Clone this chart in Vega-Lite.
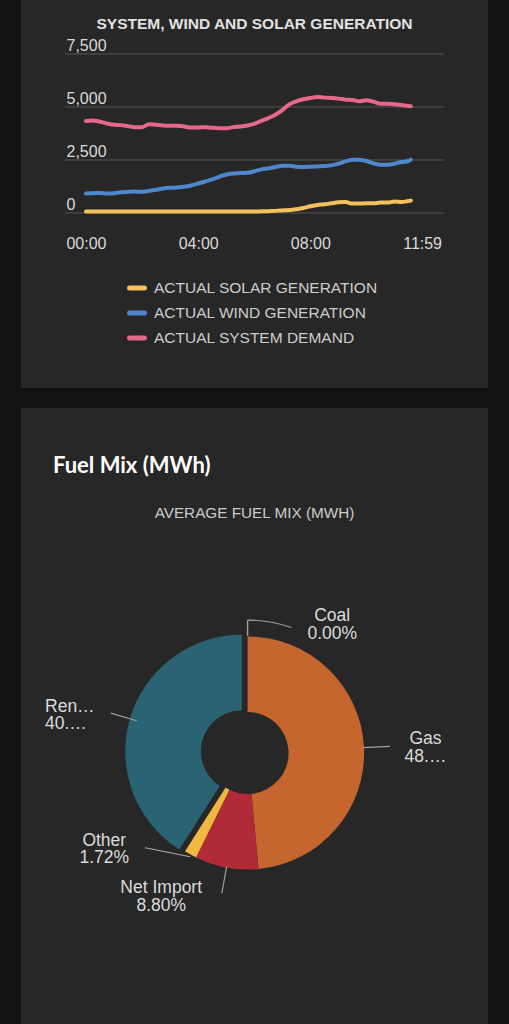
{
  "$schema": "https://vega.github.io/schema/vega-lite/v6.json",
  "background": "#131313",
  "padding": {"left": 21, "right": 21, "top": 0, "bottom": 0},
  "spacing": 0,
  "resolve": {"scale": {"color": "independent"}, "legend": {"color": "independent"}},
  "config": {
    "view": {"fill": "#272727", "stroke": null},
    "font": "Liberation Sans"
  },
  "vconcat": [
    {
      "width": 467,
      "height": 388,
      "view": {"fill": "#272727", "stroke": null},
      "title": {
        "text": "SYSTEM, WIND AND SOLAR GENERATION",
        "anchor": "middle",
        "frame": "group",
        "offset": -44,
        "baseline": "alphabetic",
        "font": "Liberation Sans",
        "fontSize": 15.5,
        "fontWeight": "bold",
        "color": "#e2e2e2"
      },
      "data": {
        "values": [
          {"time": "2024-01-01T00:00", "solar": 65, "wind": 918, "demand": 4335},
          {"time": "2024-01-01T00:15", "solar": 65, "wind": 933, "demand": 4366},
          {"time": "2024-01-01T00:30", "solar": 65, "wind": 949, "demand": 4303},
          {"time": "2024-01-01T00:45", "solar": 65, "wind": 918, "demand": 4224},
          {"time": "2024-01-01T01:00", "solar": 65, "wind": 933, "demand": 4161},
          {"time": "2024-01-01T01:15", "solar": 65, "wind": 981, "demand": 4145},
          {"time": "2024-01-01T01:30", "solar": 65, "wind": 997, "demand": 4097},
          {"time": "2024-01-01T01:45", "solar": 65, "wind": 1012, "demand": 4050},
          {"time": "2024-01-01T02:00", "solar": 65, "wind": 997, "demand": 4050},
          {"time": "2024-01-01T02:15", "solar": 65, "wind": 1044, "demand": 4192},
          {"time": "2024-01-01T02:30", "solar": 65, "wind": 1092, "demand": 4161},
          {"time": "2024-01-01T02:45", "solar": 65, "wind": 1155, "demand": 4129},
          {"time": "2024-01-01T03:00", "solar": 65, "wind": 1187, "demand": 4113},
          {"time": "2024-01-01T03:15", "solar": 65, "wind": 1202, "demand": 4113},
          {"time": "2024-01-01T03:30", "solar": 65, "wind": 1234, "demand": 4082},
          {"time": "2024-01-01T03:45", "solar": 65, "wind": 1297, "demand": 4034},
          {"time": "2024-01-01T04:00", "solar": 65, "wind": 1392, "demand": 4034},
          {"time": "2024-01-01T04:15", "solar": 65, "wind": 1487, "demand": 4050},
          {"time": "2024-01-01T04:30", "solar": 65, "wind": 1582, "demand": 4018},
          {"time": "2024-01-01T04:45", "solar": 65, "wind": 1709, "demand": 4002},
          {"time": "2024-01-01T05:00", "solar": 65, "wind": 1819, "demand": 4002},
          {"time": "2024-01-01T05:15", "solar": 65, "wind": 1867, "demand": 4050},
          {"time": "2024-01-01T05:30", "solar": 66, "wind": 1883, "demand": 4082},
          {"time": "2024-01-01T05:45", "solar": 68, "wind": 1898, "demand": 4129},
          {"time": "2024-01-01T06:00", "solar": 72, "wind": 1962, "demand": 4208},
          {"time": "2024-01-01T06:15", "solar": 77, "wind": 2057, "demand": 4350},
          {"time": "2024-01-01T06:30", "solar": 86, "wind": 2104, "demand": 4477},
          {"time": "2024-01-01T06:45", "solar": 100, "wind": 2167, "demand": 4635},
          {"time": "2024-01-01T07:00", "solar": 120, "wind": 2231, "demand": 4857},
          {"time": "2024-01-01T07:15", "solar": 142, "wind": 2231, "demand": 5126},
          {"time": "2024-01-01T07:30", "solar": 174, "wind": 2183, "demand": 5268},
          {"time": "2024-01-01T07:45", "solar": 237, "wind": 2167, "demand": 5363},
          {"time": "2024-01-01T08:00", "solar": 316, "wind": 2183, "demand": 5426},
          {"time": "2024-01-01T08:15", "solar": 380, "wind": 2199, "demand": 5474},
          {"time": "2024-01-01T08:30", "solar": 411, "wind": 2215, "demand": 5442},
          {"time": "2024-01-01T08:45", "solar": 459, "wind": 2246, "demand": 5426},
          {"time": "2024-01-01T09:00", "solar": 506, "wind": 2326, "demand": 5395},
          {"time": "2024-01-01T09:15", "solar": 522, "wind": 2436, "demand": 5347},
          {"time": "2024-01-01T09:30", "solar": 443, "wind": 2515, "demand": 5331},
          {"time": "2024-01-01T09:45", "solar": 443, "wind": 2515, "demand": 5268},
          {"time": "2024-01-01T10:00", "solar": 459, "wind": 2452, "demand": 5316},
          {"time": "2024-01-01T10:15", "solar": 459, "wind": 2341, "demand": 5252},
          {"time": "2024-01-01T10:30", "solar": 490, "wind": 2278, "demand": 5157},
          {"time": "2024-01-01T10:45", "solar": 490, "wind": 2278, "demand": 5157},
          {"time": "2024-01-01T11:00", "solar": 538, "wind": 2326, "demand": 5126},
          {"time": "2024-01-01T11:15", "solar": 522, "wind": 2405, "demand": 5094},
          {"time": "2024-01-01T11:30", "solar": 570, "wind": 2452, "demand": 5047},
          {"time": "2024-01-01T11:35", "solar": 585, "wind": 2515, "demand": 5040}
        ]
      },
      "layer": [
        {
          "data": {"values": [{"g": 0}, {"g": 2500}, {"g": 5000}, {"g": 7500}]},
          "mark": {"type": "rule", "color": "#565656", "strokeWidth": 1},
          "encoding": {
            "y": {
              "field": "g",
              "type": "quantitative",
              "scale": {"domain": [-8255, 10047], "nice": false, "zero": false},
              "axis": {
                "orient": "left",
                "offset": -44,
                "values": [0, 2500, 5000, 7500],
                "format": ",.0f",
                "ticks": false,
                "domain": false,
                "grid": false,
                "labelAlign": "left",
                "labelBaseline": "alphabetic",
                "labelPadding": -1,
                "labelOffset": -3,
                "labelFontSize": 16,
                "labelColor": "#dadada",
                "labelFlush": false,
                "labelOverlap": false,
                "title": null
              }
            },
            "x": {
              "datum": {"year": 2023, "month": 12, "date": 31, "hours": 23, "minutes": 15},
              "type": "temporal",
              "scale": {
                "domain": [
                  {"year": 2023, "month": 12, "date": 31, "hours": 21, "minutes": 41},
                  {"year": 2024, "month": 1, "date": 1, "hours": 14, "minutes": 20}
                ],
                "nice": false
              },
              "axis": {
                "orient": "bottom",
                "offset": -175,
                "values": [
                  {"year": 2024, "month": 1, "date": 1, "hours": 0, "minutes": 0},
                  {"year": 2024, "month": 1, "date": 1, "hours": 4, "minutes": 0},
                  {"year": 2024, "month": 1, "date": 1, "hours": 8, "minutes": 0},
                  {"year": 2024, "month": 1, "date": 1, "hours": 11, "minutes": 59}
                ],
                "format": "%H:%M",
                "ticks": false,
                "domain": false,
                "grid": false,
                "labelPadding": 22,
                "labelFontSize": 16,
                "labelColor": "#dadada",
                "labelFlush": false,
                "labelOverlap": false,
                "title": null
              }
            },
            "x2": {"datum": {"year": 2024, "month": 1, "date": 1, "hours": 12, "minutes": 46}}
          }
        },
        {
          "transform": [{"fold": ["solar", "wind", "demand"], "as": ["series", "mw"]}],
          "mark": {"type": "line", "strokeWidth": 4, "strokeCap": "round", "strokeJoin": "round", "interpolate": "monotone"},
          "encoding": {
            "x": {
              "field": "time",
              "type": "temporal",
              "axis": {
                "orient": "bottom",
                "offset": -175,
                "values": [
                  {"year": 2024, "month": 1, "date": 1, "hours": 0, "minutes": 0},
                  {"year": 2024, "month": 1, "date": 1, "hours": 4, "minutes": 0},
                  {"year": 2024, "month": 1, "date": 1, "hours": 8, "minutes": 0},
                  {"year": 2024, "month": 1, "date": 1, "hours": 11, "minutes": 59}
                ],
                "format": "%H:%M",
                "ticks": false,
                "domain": false,
                "grid": false,
                "labelPadding": 22,
                "labelFontSize": 16,
                "labelColor": "#dadada",
                "labelFlush": false,
                "labelOverlap": false,
                "title": null
              }
            },
            "y": {
              "field": "mw",
              "type": "quantitative",
              "axis": {
                "orient": "left",
                "offset": -44,
                "values": [0, 2500, 5000, 7500],
                "format": ",.0f",
                "ticks": false,
                "domain": false,
                "grid": false,
                "labelAlign": "left",
                "labelBaseline": "alphabetic",
                "labelPadding": -1,
                "labelOffset": -3,
                "labelFontSize": 16,
                "labelColor": "#dadada",
                "labelFlush": false,
                "labelOverlap": false,
                "title": null
              }
            },
            "color": {
              "field": "series",
              "type": "nominal",
              "scale": {"domain": ["solar", "wind", "demand"], "range": ["#f4c25a", "#4f87cc", "#e6698b"]},
              "legend": {
                "orient": "none",
                "legendX": 106,
                "legendY": 278,
                "title": null,
                "direction": "vertical",
                "labelExpr": "datum.label == 'solar' ? 'ACTUAL SOLAR GENERATION' : datum.label == 'wind' ? 'ACTUAL WIND GENERATION' : 'ACTUAL SYSTEM DEMAND'",
                "symbolType": "stroke",
                "symbolSize": 225,
                "symbolStrokeWidth": 5,
                "labelFontSize": 15.5,
                "labelColor": "#cdcdcd",
                "labelLimit": 400,
                "labelOffset": 7,
                "rowPadding": 5,
                "padding": 0,
                "encode": {"symbols": {"update": {"strokeCap": {"value": "round"}}}}
              }
            }
          }
        }
      ]
    },
    {
      "width": 467,
      "height": 20,
      "view": {"fill": "#131313", "stroke": null},
      "data": {"values": [{}]},
      "mark": {"type": "text", "text": ""},
      "encoding": {}
    },
    {
      "width": 467,
      "height": 74,
      "view": {"fill": "#272727", "stroke": null},
      "title": {
        "text": "Fuel Mix (MWh)",
        "anchor": "start",
        "frame": "group",
        "dx": 32,
        "offset": -87,
        "baseline": "alphabetic",
        "font": "Lato",
        "fontSize": 22,
        "fontWeight": "bold",
        "color": "#ffffff"
      },
      "data": {"values": [{}]},
      "mark": {"type": "text", "text": ""},
      "encoding": {}
    },
    {
      "width": 467,
      "height": 542,
      "view": {"fill": "#272727", "stroke": null},
      "title": {
        "text": "AVERAGE FUEL MIX (MWH)",
        "anchor": "middle",
        "frame": "group",
        "offset": -51,
        "baseline": "alphabetic",
        "font": "Liberation Sans",
        "fontSize": 15.3,
        "fontWeight": "normal",
        "color": "#cccccc"
      },
      "data": {
        "values": [
          {"fuel": "Coal", "pct": 0},
          {"fuel": "Gas", "pct": 48.5},
          {"fuel": "Net Import", "pct": 8.8},
          {"fuel": "Other", "pct": 1.72},
          {"fuel": "Renewables", "pct": 40.98}
        ]
      },
      "transform": [{"calculate": "datum.fuel + '\\n' + format(datum.pct, '.2f') + '%'", "as": "label"}],
      "encoding": {
        "theta": {"field": "pct", "type": "quantitative", "stack": true},
        "order": {"field": "fuel", "sort": "ascending"}
      },
      "layer": [
        {
          "mark": {"type": "arc", "innerRadius": 41, "radius": 116.5, "xOffset": -6.9},
          "encoding": {
            "color": {
              "field": "fuel",
              "type": "nominal",
              "scale": {"domain": ["Coal", "Gas", "Net Import", "Other", "Renewables"], "range": ["#7a7a7a", "#c4662e", "#b12a38", "#f0b840", "#2a6373"]},
              "legend": null
            },
            "opacity": {"condition": {"test": "datum.fuel === 'Renewables'", "value": 0}, "value": 1}
          }
        },
        {
          "mark": {"type": "arc", "innerRadius": 41, "radius": 116.5, "xOffset": -12.66, "yOffset": -1.67},
          "encoding": {
            "color": {"field": "fuel", "type": "nominal", "legend": null},
            "opacity": {"condition": {"test": "datum.fuel === 'Renewables'", "value": 1}, "value": 0}
          }
        },
        {
          "mark": {"type": "arc", "filled": false, "stroke": "#a0a0a0", "strokeWidth": 1.2, "padAngle": 3, "innerRadius": 115.5, "radius": 142.5, "xOffset": -6.9},
          "encoding": {
            "detail": {"field": "fuel"},
            "opacity": {"condition": {"test": "datum.fuel === 'Gas' || datum.fuel === 'Net Import' || datum.fuel === 'Renewables'", "value": 1}, "value": 0}
          }
        },
        {
          "mark": {"type": "arc", "filled": false, "stroke": "#a0a0a0", "strokeWidth": 1.4, "padAngle": 3, "innerRadius": 117, "radius": 132.9, "xOffset": -6.9},
          "encoding": {
            "detail": {"field": "fuel"},
            "opacity": {"condition": {"test": "datum.fuel === 'Coal'", "value": 1}, "value": 0}
          }
        },
        {
          "mark": {"type": "arc", "color": "#a0a0a0", "innerRadius": 132.3, "radius": 133.5, "xOffset": -6.9},
          "encoding": {
            "theta": {"datum": 0, "type": "quantitative"},
            "theta2": {"datum": 5.35},
            "opacity": {"condition": {"test": "datum.fuel === 'Coal'", "value": 1}, "value": 0}
          }
        },
        {
          "mark": {"type": "text", "radius": 127.7, "thetaOffset": 0.164, "xOffset": -6.9, "angle": 11.3, "align": "center", "baseline": "middle", "font": "DejaVu Sans", "fontSize": 12.7, "color": "#a0a0a0"},
          "encoding": {
            "detail": {"field": "fuel"},
            "text": {"condition": {"test": "datum.fuel === 'Other'", "value": "──────"}, "value": ""}
          }
        },
        {
          "mark": {"type": "text", "radius": 154.2, "thetaOffset": 0.581, "xOffset": -6.9, "yOffset": -8, "align": "center", "baseline": "middle", "lineBreak": "\n", "lineHeight": 17.5, "fontSize": 17.5, "color": "#dcdcdc"},
          "encoding": {
            "detail": {"field": "fuel"},
            "text": {"condition": {"test": "datum.fuel === 'Coal'", "field": "label"}, "value": ""}
          }
        },
        {
          "mark": {"type": "text", "radius": 178, "thetaOffset": 0.014, "xOffset": -6.9, "yOffset": -8, "align": "center", "baseline": "middle", "lineBreak": "\n", "lineHeight": 17.5, "fontSize": 17.5, "color": "#dcdcdc", "limit": 47},
          "encoding": {
            "detail": {"field": "fuel"},
            "text": {"condition": {"test": "datum.fuel === 'Gas'", "field": "label"}, "value": ""}
          }
        },
        {
          "mark": {"type": "text", "radius": 206.2, "thetaOffset": -0.096, "xOffset": -6.9, "yOffset": -8, "align": "left", "baseline": "middle", "lineBreak": "\n", "lineHeight": 17.5, "fontSize": 17.5, "color": "#dcdcdc", "limit": 50.5},
          "encoding": {
            "detail": {"field": "fuel"},
            "text": {"condition": {"test": "datum.fuel === 'Renewables'", "field": "label"}, "value": ""}
          }
        },
        {
          "mark": {"type": "text", "radius": 172.5, "thetaOffset": 0.468, "xOffset": -6.9, "yOffset": -8, "align": "center", "baseline": "middle", "lineBreak": "\n", "lineHeight": 17.5, "fontSize": 17.5, "color": "#dcdcdc"},
          "encoding": {
            "detail": {"field": "fuel"},
            "text": {"condition": {"test": "datum.fuel === 'Other'", "field": "label"}, "value": ""}
          }
        },
        {
          "mark": {"type": "text", "radius": 167.4, "thetaOffset": 0.36, "xOffset": -6.9, "yOffset": -8, "align": "center", "baseline": "middle", "lineBreak": "\n", "lineHeight": 17.5, "fontSize": 17.5, "color": "#dcdcdc"},
          "encoding": {
            "detail": {"field": "fuel"},
            "text": {"condition": {"test": "datum.fuel === 'Net Import'", "field": "label"}, "value": ""}
          }
        }
      ]
    }
  ]
}
